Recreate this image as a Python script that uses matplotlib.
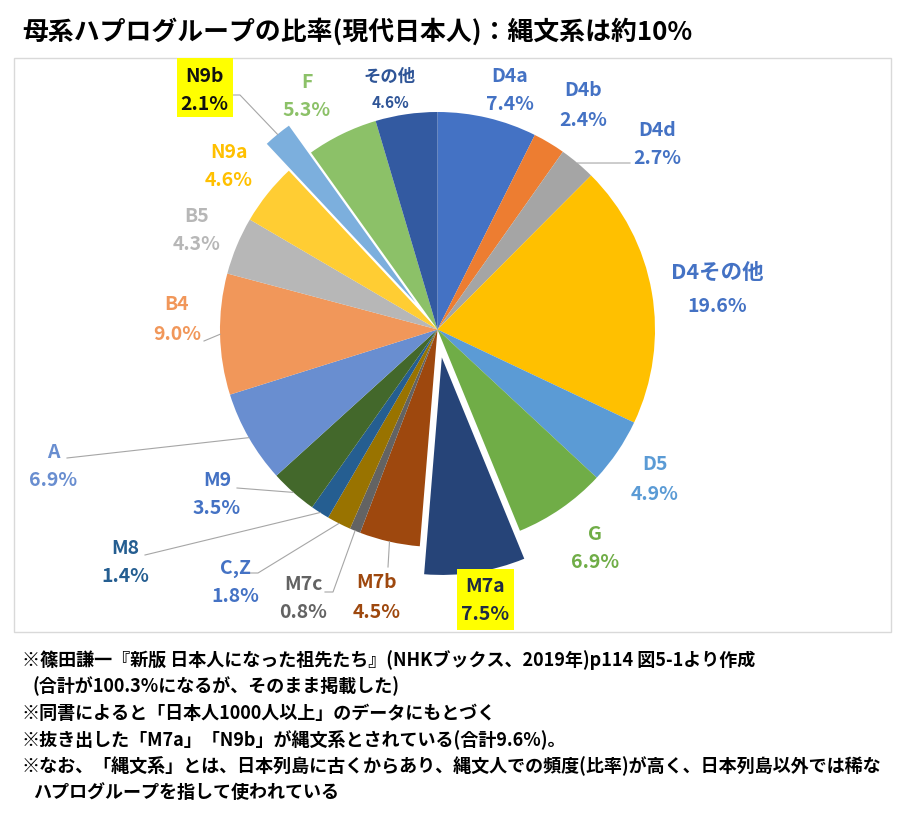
import numpy as np
import matplotlib
matplotlib.use("Agg")
import matplotlib.pyplot as plt
from matplotlib.patches import Rectangle

plt.rcParams['font.family'] = ['Noto Sans CJK JP', 'DejaVu Sans']

# haplogroup shares (%), clockwise from 12 o'clock
groups = ["D4a", "D4b", "D4d", "D4その他", "D5", "G", "M7a", "M7b", "M7c", "C,Z",
          "M8", "M9", "A", "B4", "B5", "N9a", "N9b", "F", "その他"]
shares = [7.4, 2.4, 2.7, 19.6, 4.9, 6.9, 7.5, 4.5, 0.8, 1.8,
          1.4, 3.5, 6.9, 9.0, 4.3, 4.6, 2.1, 5.3, 4.6]
jomon = ["M7a", "N9b"]

title = "母系ハプログループの比率(現代日本人)：縄文系は約10%"
notes = [
    "※篠田謙一『新版 日本人になった祖先たち』(NHKブックス、2019年)p114 図5-1より作成",
    " (合計が100.3%になるが、そのまま掲載した)",
    "※同書によると「日本人1000人以上」のデータにもとづく",
    "※抜き出した「M7a」「N9b」が縄文系とされている(合計9.6%)。",
    "※なお、「縄文系」とは、日本列島に古くからあり、縄文人での頻度(比率)が高く、日本列島以外では稀な",
    " ハプログループを指して使われている",
]

slice_colors = ["#4472C4", "#ED7D31", "#A5A5A5", "#FFC000", "#5B9BD5", "#70AD47",
                "#264478", "#9E480E", "#636363", "#997300", "#255E91", "#43682B",
                "#698ED0", "#F1975A", "#B7B7B7", "#FFCD33", "#7CAFDD", "#8CC168", "#335AA1"]
label_colors = ["#4472C4", "#4472C4", "#4472C4", "#4472C4", "#5B9BD5", "#70AD47",
                "#1F2A44", "#9E480E", "#636363", "#4472C4", "#255E91", "#4472C4",
                "#698ED0", "#F1975A", "#B7B7B7", "#FFC000", "#111111", "#8CC168", "#2F5597"]

# layout in pixels (figure is 911x819, y downwards)
W, H = 911, 819
cx, cy, R = 437.5, 329.5, 217.5
explode_frac = {"M7a": 0.13, "N9b": 0.16}

# label centre x, name y, percent y
label_pos = {
    "D4a": (510, 77, 104), "D4b": (583, 91, 120), "D4d": (657, 130, 158),
    "D4その他": (717, 272, 306), "D5": (655, 465, 494), "G": (595, 534, 563),
    "M7a": (485, 586, 614), "M7b": (377, 583, 612), "M7c": (303, 585, 613),
    "C,Z": (235, 568, 596), "M8": (125, 548, 577), "M9": (217, 481, 509),
    "A": (53, 452, 480), "B4": (177, 305, 334), "B5": (197, 216, 245),
    "N9a": (229, 152, 180), "N9b": (204, 77, 105), "F": (307, 82, 110),
    "その他": (390, 77, 103),
}
name_size = {"D4その他": 15.5, "その他": 12.5}
pct_size = {"その他": 11}
# leader line points on the label side (slice end is added from the angle)
leaders = {
    "D4d": [(630, 163)],
    "M7b": [(388, 567)],
    "M7c": [(325, 592), (333, 592)],
    "C,Z": [(250, 573), (258, 573)],
    "M8": [(145, 555)],
    "M9": [(237, 488)],
    "A": [(67, 458)],
    "B4": [(204, 341)],
    "N9b": [(233, 95), (240, 95)],
}
boxes = {"M7a": (457, 569, 57, 61), "N9b": (177, 58, 56, 59)}

fig = plt.figure(figsize=(W / 100, H / 100), dpi=100)
ax = fig.add_axes([0, 0, 1, 1])

explode = [explode_frac.get(g, 0) * R for g in groups]
ax.pie(shares, colors=slice_colors, startangle=-90, counterclock=True,
       center=(cx, cy), radius=R, explode=explode,
       wedgeprops=dict(linewidth=0))

ax.set_xlim(0, W)
ax.set_ylim(H, 0)
ax.set_aspect('equal')
ax.axis('off')

# chart frame
ax.add_patch(Rectangle((14, 58), 877, 574, fill=False, edgecolor="#D9D9D9", lw=1, zorder=0))

total = sum(shares)
cum = np.cumsum([0] + shares)
for i, g in enumerate(groups):
    mid = (cum[i] + cum[i + 1]) / 2 / total * 2 * np.pi
    if g in leaders:
        r = R + explode[i]
        ex, ey = cx + r * np.sin(mid), cy - r * np.cos(mid)
        pts = leaders[g] + [(ex, ey)]
        ax.plot([p[0] for p in pts], [p[1] for p in pts], color="#A6A6A6", lw=0.8, zorder=1)
    if g in boxes:
        bx, by, bw, bh = boxes[g]
        ax.add_patch(Rectangle((bx, by), bw, bh, facecolor="#FFFF00", edgecolor="none", zorder=2))
    x, yn, yp = label_pos[g]
    ax.text(x, yn, g, ha="center", va="center", fontsize=name_size.get(g, 14),
            fontweight="bold", color=label_colors[i], zorder=3)
    ax.text(x, yp, f"{shares[i]:.1f}%", ha="center", va="center", fontsize=pct_size.get(g, 14),
            fontweight="bold", color=label_colors[i], zorder=3)

ax.text(22, 32, title, ha="left", va="center", fontsize=18.6, fontweight="bold", color="black")

for k, line in enumerate(notes):
    indent = 11 if line.startswith(" ") else 0
    ax.text(22 + indent, 660 + k * 26.6, line.strip(), ha="left", va="center", fontsize=13,
            fontweight="bold", color="black")

fig.savefig("out.png", dpi=100)
